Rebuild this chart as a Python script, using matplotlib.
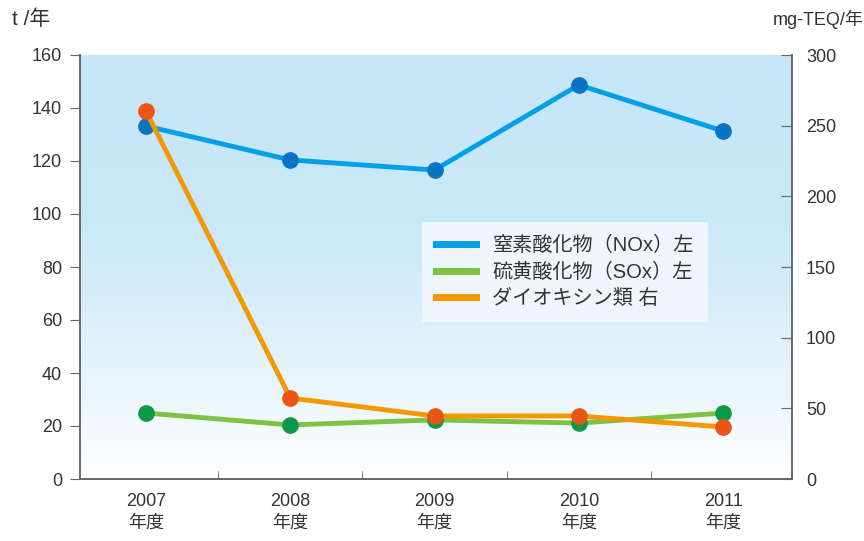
import numpy as np
import matplotlib.pyplot as plt
from matplotlib.colors import LinearSegmentedColormap
from matplotlib.lines import Line2D

plt.rcParams['font.family'] = ['Liberation Sans', 'Noto Sans CJK JP', 'DejaVu Sans']

years = ['2007\n年度', '2008\n年度', '2009\n年度', '2010\n年度', '2011\n年度']
nox = [133.2, 120.4, 116.6, 148.7, 131.3]
sox = [24.9, 20.4, 22.3, 21.1, 24.9]
dioxin = [260.4, 57.3, 44.6, 44.6, 36.8]
labels = ['窒素酸化物（NOx）左', '硫黄酸化物（SOx）左', 'ダイオキシン類 右']

fig = plt.figure(figsize=(8.64, 5.41), dpi=100)
ax = fig.add_axes([80 / 864, (541 - 479) / 541, (792 - 80) / 864, (479 - 55) / 541])
ax2 = ax.twinx()

x = np.arange(len(years))
xlim = (-0.457, 4.477)

# background gradient
cmap = LinearSegmentedColormap.from_list('bg', [(0, '#ffffff'), (0.35, '#dcf0fa'), (0.6, '#c9e8f8'), (1, '#c6e6f7')])
grad = np.linspace(0, 1, 256).reshape(-1, 1)
ax.imshow(grad, aspect='auto', cmap=cmap, origin='lower',
          extent=[xlim[0], xlim[1], 0, 160], zorder=0)

ax.plot(x, nox, color='#00a0e9', lw=3.5, zorder=3)
ax.plot(x, nox, 'o', color='#0a74c4', ms=11, zorder=4)
ax.plot(x, sox, color='#7dc242', lw=3.5, zorder=3)
ax.plot(x, sox, 'o', color='#0d9a48', ms=11, zorder=4)

ax2.plot(x, dioxin, color='#f39800', lw=3.5, zorder=3)
ax2.plot(x, dioxin, 'o', color='#ea5514', ms=11, zorder=4)

ax.set_xlim(*xlim)
ax.set_ylim(0, 160)
ax2.set_ylim(0, 300)
ax.set_yticks(range(0, 161, 20))
ax2.set_yticks(range(0, 301, 50))

ax.set_xticks(x)
ax.set_xticklabels(years, fontsize=13, color='#333333', linespacing=1.4)
ax.set_xticks(x[:-1] + 0.5, minor=True)
ax.tick_params(axis='x', which='major', length=0, pad=10)
ax.tick_params(axis='x', which='minor', direction='in', length=6, color='#666666')
ax.tick_params(axis='y', direction='out', length=7, color='#666666', labelsize=13, labelcolor='#333333', pad=6)
ax2.tick_params(axis='y', direction='in', length=8, color='#666666', labelsize=13, labelcolor='#333333', pad=10)

for a in (ax, ax2):
    a.spines['top'].set_visible(False)
    for s in ('left', 'right', 'bottom'):
        a.spines[s].set_color('#666666')
        a.spines[s].set_linewidth(1.2)

ax.text(-0.096, 1.085, 't /年', transform=ax.transAxes, fontsize=15, color='#333333', ha='left', va='center')
ax.text(1.10, 1.085, 'mg-TEQ/年', transform=ax.transAxes, fontsize=13, color='#333333', ha='right', va='center')

handles = [Line2D([0], [0], color=c, lw=5) for c in ('#00a0e9', '#7dc242', '#f39800')]
leg = ax2.legend(handles, labels, loc='upper left', bbox_to_anchor=(0.466, 0.63),
                 fontsize=14.5, frameon=True, handlelength=2.0, labelspacing=0.35, borderpad=0.7)
leg.get_frame().set_facecolor('#eef6fb')
leg.get_frame().set_edgecolor('none')
leg.get_frame().set_alpha(1)
leg.get_frame().set_boxstyle('square', pad=0)
for t in leg.get_texts():
    t.set_color('#333333')

fig.savefig('out.png', dpi=100)
